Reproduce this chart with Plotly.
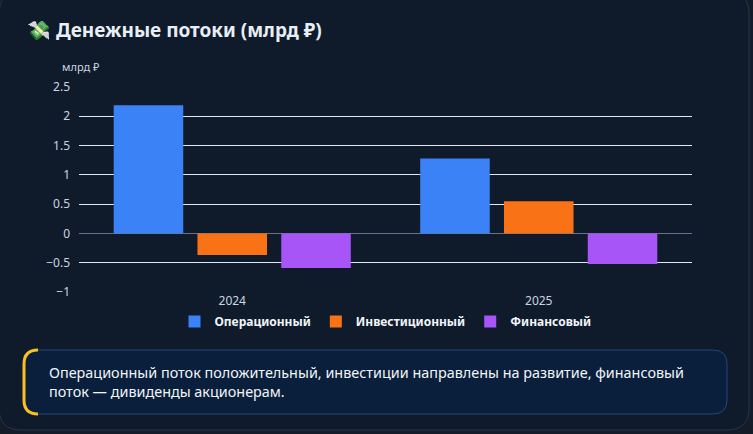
import plotly.graph_objects as go

# data
years = ["2024", "2025"]
operating = [2.19, 1.28]
investing = [-0.37, 0.55]
financing = [-0.59, -0.52]
series_names = ["Операционный", "Инвестиционный", "Финансовый"]
series_colors = ["#3b82f6", "#f97316", "#a855f7"]
y_ticks = [-1, -0.5, 0, 0.5, 1, 1.5, 2, 2.5]

title_text = "💸 <b>Денежные потоки (млрд ₽)</b>"
y_title = "млрд ₽"
note_text = ("Операционный поток положительный, инвестиции направлены на развитие, финансовый<br>"
             "поток — дивиденды акционерам.")

W, H = 753, 434
L, R, T, B = 79, 61, 87, 142
pw, ph = W - L - R, H - T - B


def px(x):
    return (x - L) / pw


def py(y):
    return (H - B - y) / ph


def rrect(x0, y0, x1, y1, r):
    # rounded rectangle path in paper coords from pixel box
    return (f"M {px(x0 + r)},{py(y0)} L {px(x1 - r)},{py(y0)} "
            f"Q {px(x1)},{py(y0)} {px(x1)},{py(y0 + r)} "
            f"L {px(x1)},{py(y1 - r)} Q {px(x1)},{py(y1)} {px(x1 - r)},{py(y1)} "
            f"L {px(x0 + r)},{py(y1)} Q {px(x0)},{py(y1)} {px(x0)},{py(y1 - r)} "
            f"L {px(x0)},{py(y0 + r)} Q {px(x0)},{py(y0)} {px(x0 + r)},{py(y0)} Z")


fig = go.Figure()
for name, vals, col in zip(series_names, [operating, investing, financing], series_colors):
    fig.add_trace(go.Bar(x=years, y=vals, name=name, marker_color=col,
                         marker_line_width=0))

shapes = [
    # card
    dict(type="path", xref="paper", yref="paper", layer="below",
         path=rrect(-1, -8, 749, 430, 22),
         fillcolor="#0f1b2a", line=dict(color="#26364c", width=1)),
    # note box
    dict(type="path", xref="paper", yref="paper", layer="below",
         path=rrect(24, 350, 727, 414, 14),
         fillcolor="#0a1f3b", line=dict(color="#24467a", width=1)),
    # yellow left accent
    dict(type="path", xref="paper", yref="paper",
         path=(f"M {px(38)},{py(350)} Q {px(24)},{py(350)} {px(24)},{py(364)} "
               f"L {px(24)},{py(400)} Q {px(24)},{py(414)} {px(38)},{py(414)}"),
         line=dict(color="#fbbf24", width=3)),
]

annotations = [
    dict(text=title_text, xref="paper", yref="paper", x=px(25), y=py(30),
         xanchor="left", yanchor="middle", showarrow=False,
         font=dict(size=19, color="#e8eef6", family="Noto Sans, sans-serif")),
    dict(text=y_title, xref="paper", yref="paper", x=px(60), y=py(67),
         xanchor="left", yanchor="middle", showarrow=False,
         font=dict(size=11, color="#cbd5e1")),
    dict(text=note_text, xref="paper", yref="paper", x=px(47), y=py(382),
         xanchor="left", yanchor="middle", align="left", showarrow=False,
         font=dict(size=14.4, color="#f1f5f9")),
]

fig.update_layout(
    width=W, height=H,
    margin=dict(l=L, r=R, t=T, b=B),
    paper_bgcolor="#141c27",
    plot_bgcolor="rgba(0,0,0,0)",
    font=dict(family="Noto Sans, sans-serif", color="#cbd5e1", size=12),
    barmode="group",
    bargap=0.18,
    bargroupgap=0.17,
    showlegend=True,
    legend=dict(orientation="h", x=0.5, xanchor="center", y=py(307), yanchor="top",
                font=dict(size=12, color="#f1f5f9", family="Noto Sans, sans-serif",
                          weight="bold"),
                bgcolor="rgba(0,0,0,0)"),
    shapes=shapes,
    annotations=annotations,
    xaxis=dict(showgrid=False, showline=False, ticks="",
               tickfont=dict(size=12, color="#cbd5e1")),
    xaxis2=dict(matches="x", overlaying="x", anchor="free", position=1 / 3.5,
                showticklabels=False, ticks="outside", tickson="boundaries",
                ticklen=5, tickcolor="#64748b", showgrid=False, showline=False,
                type="category", categoryarray=years),
    yaxis=dict(range=[-1, 2.5], tickvals=y_ticks, showgrid=True,
               gridcolor="#e2e8f0", gridwidth=1,
               zeroline=True, zerolinecolor="#64748b", zerolinewidth=1,
               showline=False, ticks="", ticklabelstandoff=8,
               tickfont=dict(size=12, color="#cbd5e1")),
)

fig.write_html("out.html", config={"displayModeBar": False},
               post_script="document.body.style.margin='0';")
